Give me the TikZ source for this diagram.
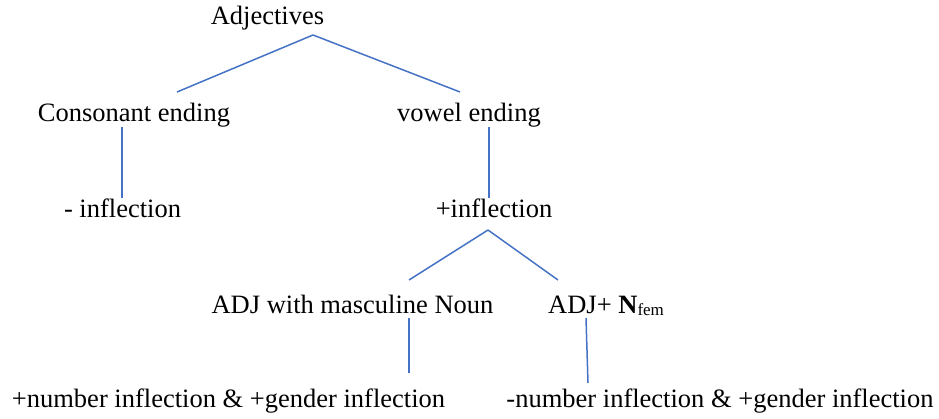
\documentclass[tikz,border=0pt]{standalone}
\usepackage{fontspec}
\setmainfont{Liberation Serif}
\definecolor{linkblue}{RGB}{68,114,196}

\begin{document}
\begin{tikzpicture}[x=1pt, y=-1pt]
	\tikzset{
	    word/.style= {inner sep=0pt, anchor=base, font=\fontsize{26.5}{32}\selectfont},
	    wordleft/.style= {word, anchor=base west},
	    link/.style= {draw=linkblue, line width=1.5pt},
	}
	\useasboundingbox (0,0) rectangle (939,419);

	\node[word] (adj) at (267.5,25) {Adjectives};

	\node[word] (cons) at (134,122) {Consonant ending};
	\node[word] (vowel) at (469,122) {vowel ending};

	\node[word] (minf) at (122.5,218) {- inflection};
	\node[word] (pinf) at (494,218) {+inflection};

	\node[word] (masc) at (352.5,313) {ADJ with masculine Noun};
	\node[wordleft] (fem) at (548,313) {ADJ+ \textbf{N}\raisebox{-2.5pt}{\fontsize{17}{20}\selectfont fem}};

	\node[word] (numplus) at (228.5,407) {+number inflection \& +gender inflection};
	\node[word] (numminus) at (720,407) {-number inflection \& +gender inflection};

	% branch points
	\coordinate (adjfork) at (313,35);
	\coordinate (consup) at (177,92);
	\coordinate (vowelup) at (460,92);
	\coordinate (consdown) at (122,127);
	\coordinate (minfup) at (122,198);
	\coordinate (voweldown) at (489,127);
	\coordinate (pinfup) at (489,198);
	\coordinate (pinffork) at (488,230);
	\coordinate (mascup) at (409,280);
	\coordinate (femup) at (558,280);
	\coordinate (mascdown) at (409,318);
	\coordinate (numplusup) at (409,373);
	\coordinate (femdown) at (586,318);
	\coordinate (numminusup) at (588,383);

	\draw[link]
	(adjfork) edge (consup)
	(adjfork) edge (vowelup)
	(consdown) edge (minfup)
	(voweldown) edge (pinfup)
	(pinffork) edge (mascup)
	(pinffork) edge (femup)
	(mascdown) edge (numplusup)
	(femdown) edge (numminusup);
\end{tikzpicture}
\end{document}
